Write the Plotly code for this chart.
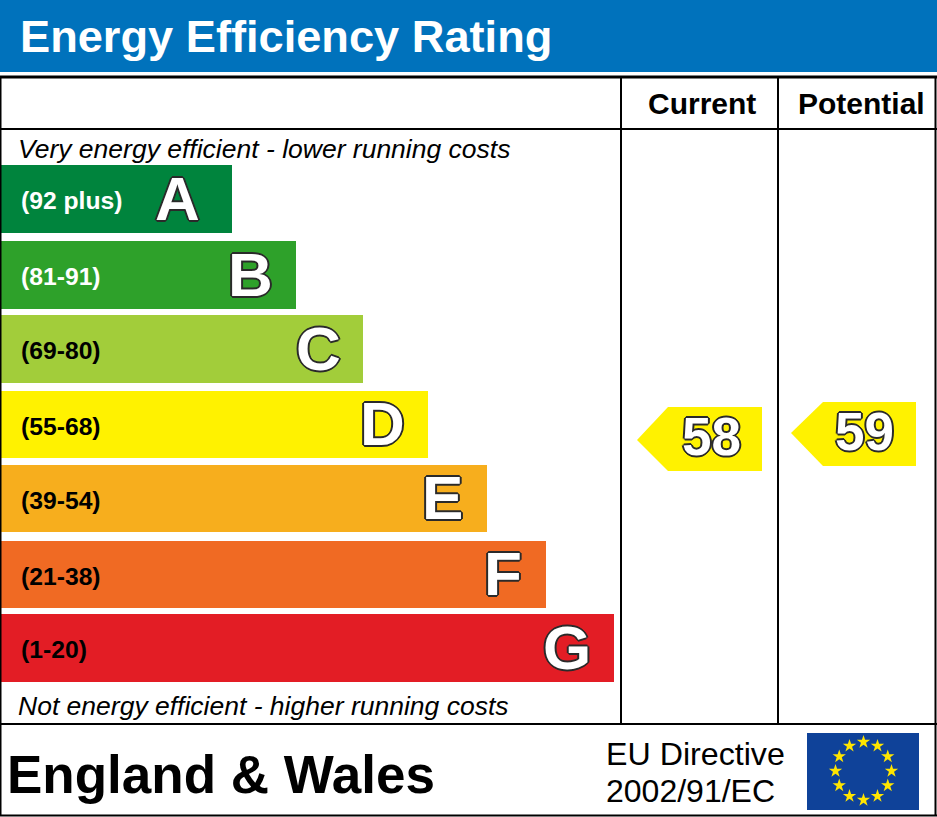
import math

import plotly.graph_objects as go

# bands, top to bottom
bands = ["A", "B", "C", "D", "E", "F", "G"]
ranges = ["(92 plus)", "(81-91)", "(69-80)", "(55-68)", "(39-54)", "(21-38)", "(1-20)"]
bar_lengths = [232, 296, 363, 428, 487, 546, 614]

current_rating = 58
potential_rating = 59

# page geometry, in pixels of the 937x817 picture
WIDTH = 937
HEIGHT = 817
bar_tops = [165, 241, 315, 391, 465, 541, 614]
bar_bottoms = [233, 309, 383, 458, 532, 608, 682]
bar_colors = ["#00843D", "#2EA12A", "#A2CD3A", "#FFF200", "#F7AE1D", "#F06A23", "#E31D25"]
range_colors = ["white", "white", "black", "black", "black", "black", "black"]

SANS = "Liberation Sans"
OUTLINE = ", ".join(
    f"{dx}px {dy}px 0 #2a2a2a"
    for dx, dy in [(-2, 0), (2, 0), (0, -2), (0, 2), (-1, -1), (1, -1), (-1, 1), (1, 1)]
)


def add_text(fig, x, y, text, size, color="black", bold=False, italic=False,
             anchor="left", shadow=None):
    font = dict(family=SANS, size=size, color=color)
    if bold:
        font["weight"] = "bold"
    if italic:
        font["style"] = "italic"
    if shadow:
        font["shadow"] = shadow
    fig.add_annotation(
        x=x, y=y, text=text, showarrow=False, xanchor=anchor, yanchor="middle",
        font=font, borderpad=0, borderwidth=0,
    )


def add_arrow(fig, tip_x, shoulder_x, right_x, top_y, bottom_y, tip_y, rating, text_x, text_y):
    fig.add_trace(
        go.Scatter(
            x=[tip_x, shoulder_x, right_x, right_x, shoulder_x, tip_x],
            y=[tip_y, top_y, top_y, bottom_y, bottom_y, tip_y],
            mode="lines",
            fill="toself",
            fillcolor="#FFF200",
            line=dict(width=0),
            hoverinfo="skip",
        )
    )
    add_text(fig, text_x, text_y, str(rating), 53, "white", bold=True,
             anchor="center", shadow=OUTLINE)


fig = go.Figure()

fig.add_trace(
    go.Bar(
        x=bar_lengths,
        y=[(t + b) / 2 for t, b in zip(bar_tops, bar_bottoms)],
        width=[b - t for t, b in zip(bar_tops, bar_bottoms)],
        orientation="h",
        marker=dict(color=bar_colors, line=dict(width=0)),
        hoverinfo="skip",
    )
)

add_arrow(fig, 637, 668, 762, 407, 471, 440, current_rating, 711, 436)
add_arrow(fig, 791, 823, 916, 402, 466, 433, potential_rating, 864, 431)

# EU flag
fig.add_shape(type="rect", x0=807, x1=919, y0=733, y1=810,
              fillcolor="#0F4299", line_width=0, layer="below")
star_angles = [i * math.pi / 6 for i in range(12)]
fig.add_trace(
    go.Scatter(
        x=[863.5 + 28 * math.sin(a) for a in star_angles],
        y=[771 - 29 * math.cos(a) for a in star_angles],
        mode="markers",
        marker=dict(symbol="star", size=10, color="#FFE500", line=dict(width=0)),
        hoverinfo="skip",
    )
)

# header band and table frame
fig.add_shape(type="rect", x0=0, x1=WIDTH, y0=0, y1=72,
              fillcolor="#0072BC", line_width=0, layer="below")
frame = dict(color="black", width=2)
fig.add_shape(type="line", x0=0, x1=WIDTH, y0=77, y1=77, line=dict(color="black", width=3))
fig.add_shape(type="line", x0=0, x1=WIDTH, y0=129, y1=129, line=frame)
fig.add_shape(type="line", x0=0, x1=WIDTH, y0=724, y1=724, line=frame)
fig.add_shape(type="line", x0=0, x1=WIDTH, y0=815.5, y1=815.5, line=frame)
fig.add_shape(type="line", x0=0.5, x1=0.5, y0=77, y1=816, line=frame)
fig.add_shape(type="line", x0=935.5, x1=935.5, y0=77, y1=816, line=frame)
fig.add_shape(type="line", x0=621, x1=621, y0=77, y1=724, line=frame)
fig.add_shape(type="line", x0=778, x1=778, y0=77, y1=724, line=frame)

add_text(fig, 20, 36, "Energy Efficiency Rating", 45.2, "white", bold=True)
add_text(fig, 702, 103, "Current", 30, bold=True, anchor="center")
add_text(fig, 861, 103, "Potential", 30, bold=True, anchor="center")
add_text(fig, 18, 149, "Very energy efficient - lower running costs", 26.5, italic=True)
add_text(fig, 18, 706, "Not energy efficient - higher running costs", 26.5, italic=True)
add_text(fig, 7, 774, "England &amp; Wales", 53, bold=True)
add_text(fig, 606, 754, "EU Directive", 32.2)
add_text(fig, 606, 791, "2002/91/EC", 32)

letter_right = [200, 273, 341, 405, 463, 522, 591]
for i, band in enumerate(bands):
    mid = (bar_tops[i] + bar_bottoms[i]) / 2
    add_text(fig, 20.5, mid + 1.5, ranges[i], 24.7, range_colors[i], bold=True)
    add_text(fig, letter_right[i], mid - 1, band, 62, "white", bold=True,
             anchor="right", shadow=OUTLINE)

fig.update_layout(
    width=WIDTH,
    height=HEIGHT,
    margin=dict(l=0, r=0, t=0, b=0),
    plot_bgcolor="white",
    paper_bgcolor="white",
    showlegend=False,
    xaxis=dict(range=[0, WIDTH], visible=False),
    yaxis=dict(range=[HEIGHT, 0], visible=False),
)

fig.write_html(
    "out.html",
    config=dict(displayModeBar=False),
    post_script="document.body.style.margin='0';document.body.style.overflow='hidden';",
)
